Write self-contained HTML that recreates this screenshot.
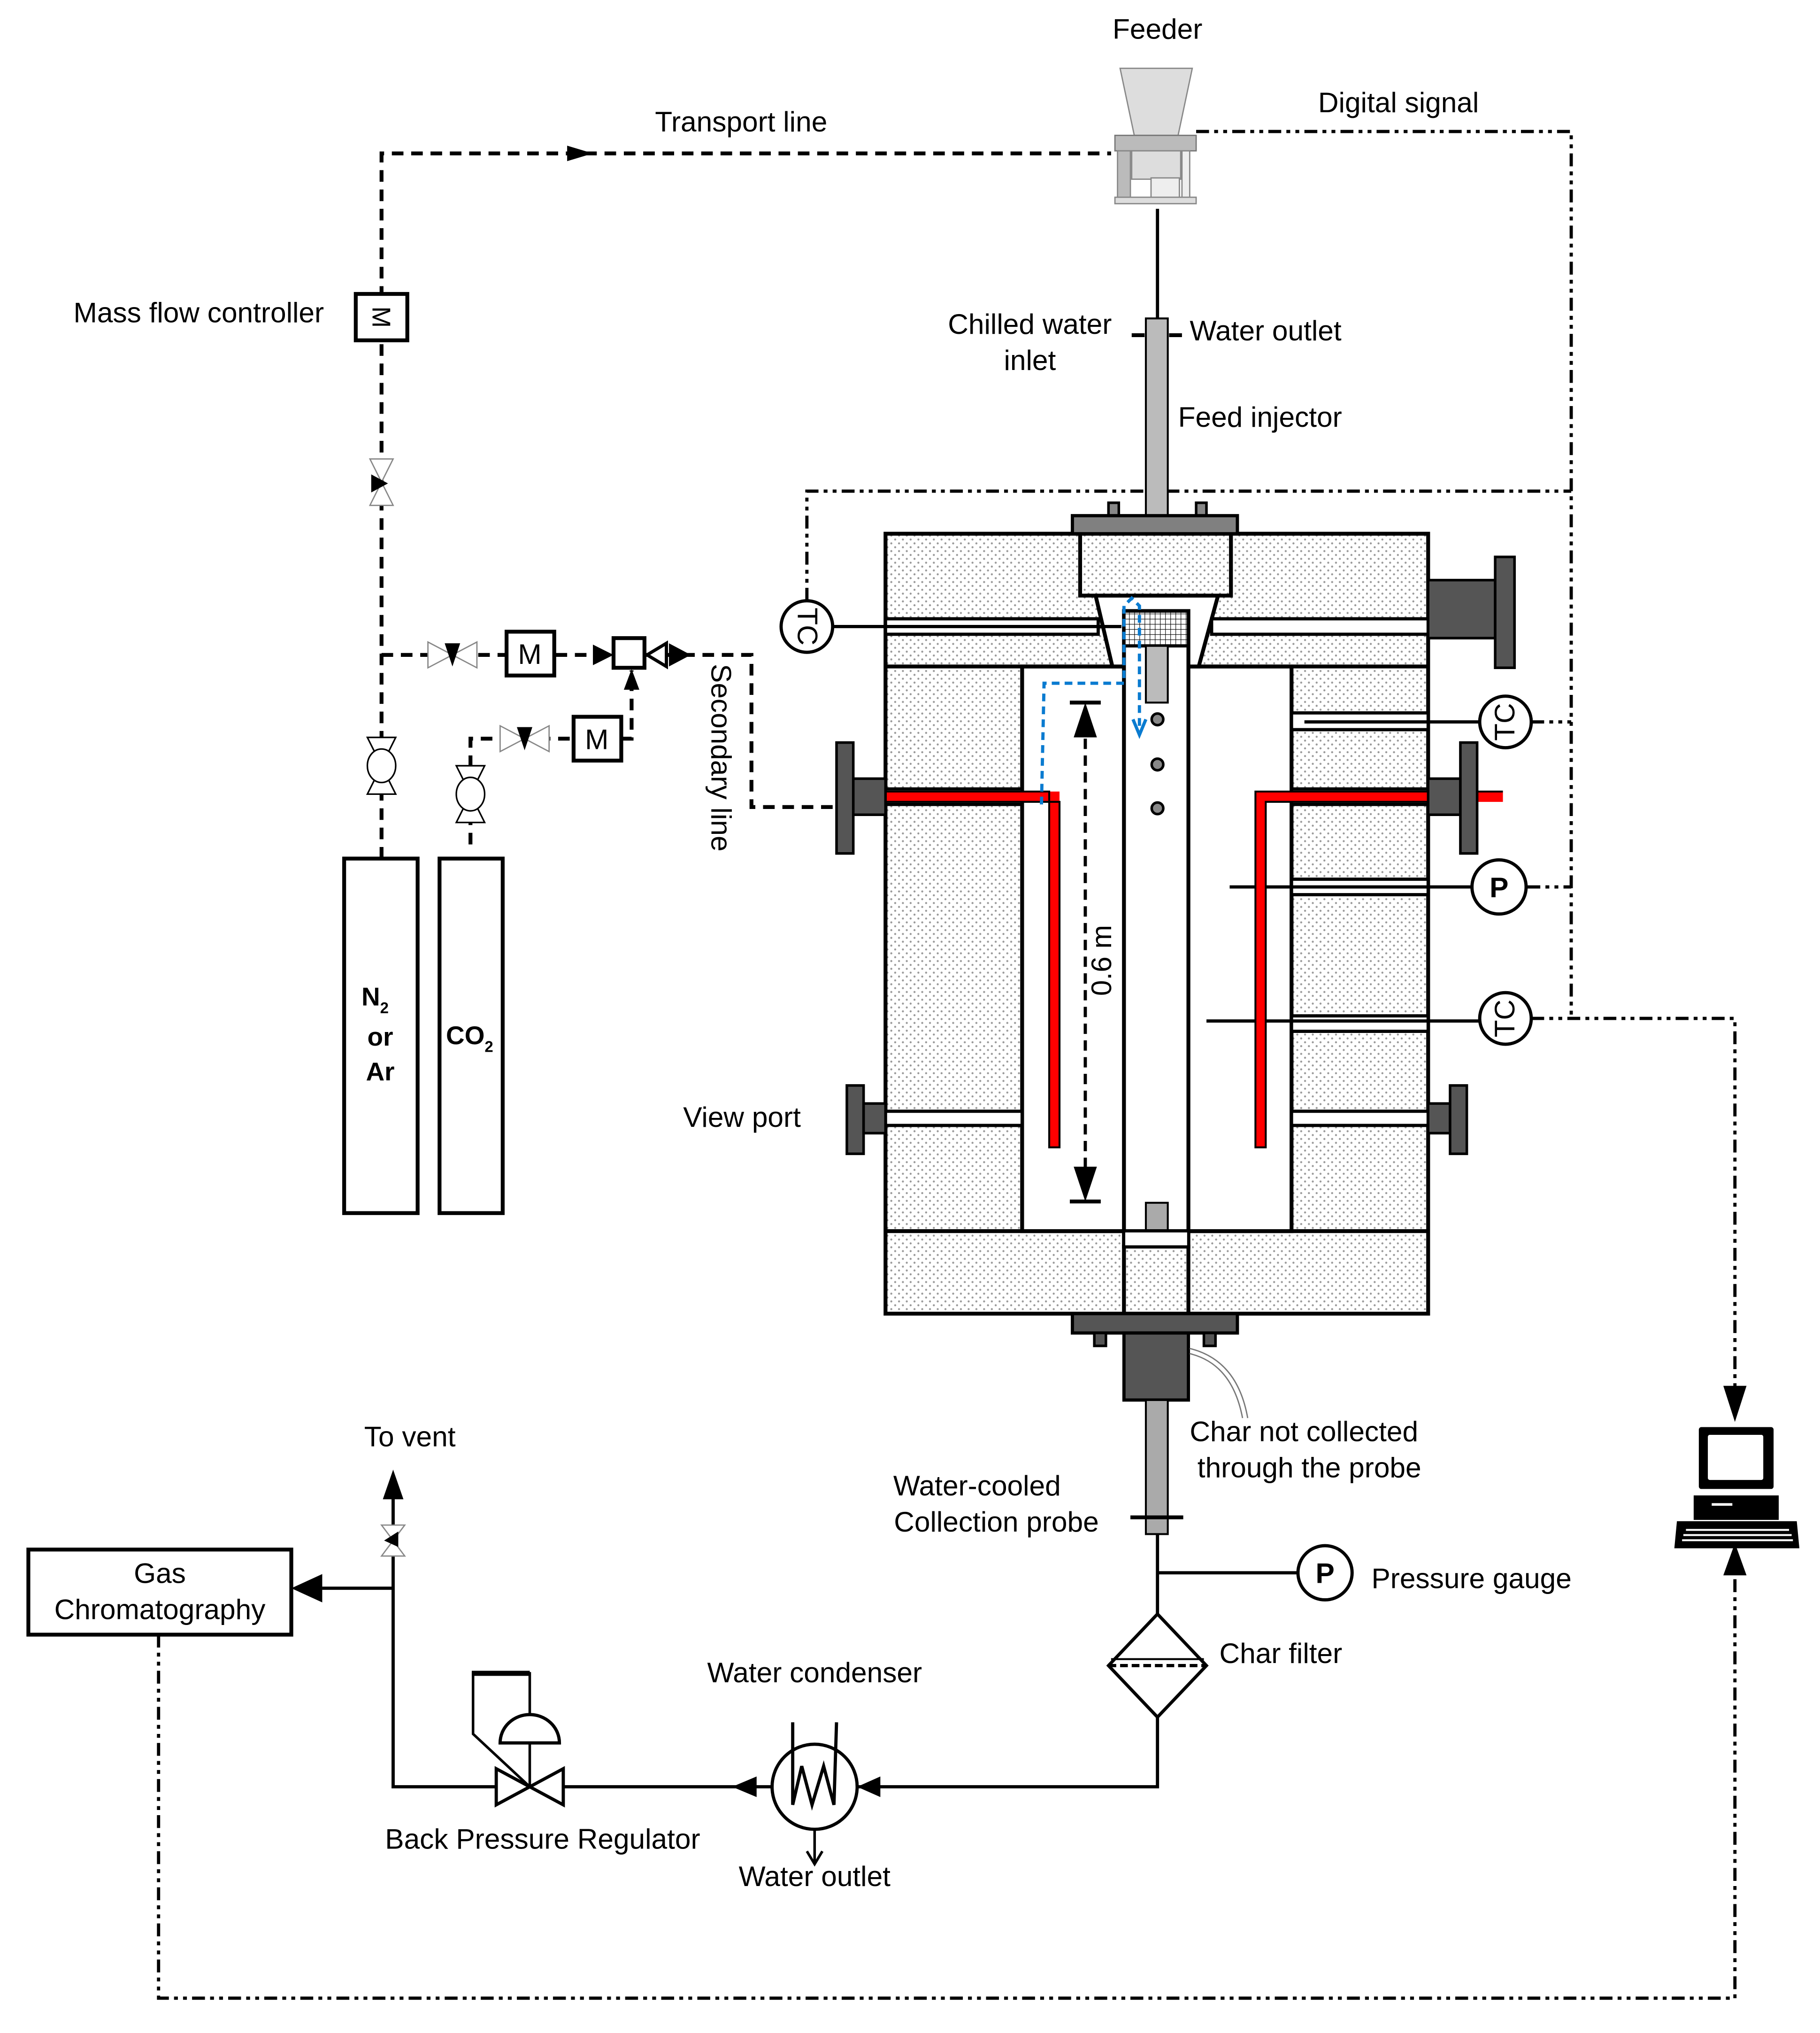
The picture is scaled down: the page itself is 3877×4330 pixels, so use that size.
<!DOCTYPE html>
<html><head><meta charset="utf-8"><style>html,body{margin:0;padding:0;background:#fff}svg{display:block}text{font-family:"Liberation Sans",sans-serif;font-size:22px;fill:#000}</style></head><body>
<svg width="3877" height="4330" viewBox="0 0 1412 1577" xmlns="http://www.w3.org/2000/svg">
<defs>
<pattern id="dots" width="6" height="6" patternUnits="userSpaceOnUse"><rect width="6" height="6" fill="#fff"/><circle cx="1.5" cy="1.5" r="0.8" fill="#999"/><circle cx="4.5" cy="4.5" r="0.8" fill="#999"/></pattern>
<pattern id="grid" width="4" height="4" patternUnits="userSpaceOnUse"><rect width="4" height="4" fill="#fff"/><path d="M0 0H4M0 0V4" stroke="#000" stroke-width="0.8"/></pattern>
</defs>
<rect width="1412" height="1577" fill="#fff"/>

<!-- Feeder -->
<text x="898" y="30" text-anchor="middle">Feeder</text>
<polygon points="869,53 925,53 914,105 880,105" fill="#ddd" stroke="#888"/>
<rect x="865" y="105" width="63" height="12" fill="#bbb" stroke="#777"/>
<rect x="878" y="117" width="38" height="22" fill="#ddd" stroke="#888"/>
<rect x="867" y="117" width="10" height="38" fill="#bbb" stroke="#888"/>
<rect x="917" y="117" width="6" height="38" fill="#eee" stroke="#888"/>
<rect x="893" y="138" width="22" height="18" fill="#eee" stroke="#888"/>
<rect x="865" y="153" width="63" height="5" fill="#ddd" stroke="#888"/>
<line x1="898" y1="162" x2="898" y2="247" stroke="#000" stroke-width="2.5"/>

<!-- transport line -->
<g stroke="#000" stroke-width="3" stroke-dasharray="9,6" fill="none">
<polyline points="296,666 296,119 862,119"/>
<polyline points="296,508 476,508"/>
<polyline points="500,508 583,508 583,626 650,626"/>
<polyline points="365,655 365,573 445,573"/>
<polyline points="482,573 490,573 490,520"/>
</g>
<polygon points="440,113 440,125 460,119" fill="#000"/>
<text x="575" y="102" text-anchor="middle">Transport line</text>
<text x="57" y="250">Mass flow controller</text>
<rect x="276" y="228" width="40" height="36" fill="#fff" stroke="#000" stroke-width="3"/>
<text x="296" y="246" text-anchor="middle" transform="rotate(90 296 246)" dy="7" style="font-size:20px">M</text>
<!-- needle valve vertical -->
<polygon points="287,356 305,356 287,392 305,392" fill="#fff" stroke="#888" stroke-width="1"/>
<polygon points="288,368 288,382 301,375" fill="#000"/>
<!-- ball valves -->
<g fill="#fff" stroke="#000" stroke-width="1.2">
<polygon points="285,572 307,572 296,594 285,616 307,616 296,594"/>
<ellipse cx="296" cy="594" rx="11" ry="13"/>
<polygon points="354,594 376,594 365,616 354,638 376,638 365,616"/>
<ellipse cx="365" cy="616" rx="11" ry="13"/>
</g>
<!-- horizontal needle valves -->
<g fill="#fff" stroke="#888" stroke-width="1">
<polygon points="332,498 332,518 370,498 370,518"/>
<polygon points="388,563 388,583 426,563 426,583"/>
</g>
<polygon points="345,499 357,499 351,517" fill="#000"/>
<polygon points="401,564 413,564 407,582" fill="#000"/>
<rect x="393" y="490" width="37" height="34" fill="#fff" stroke="#000" stroke-width="3"/>
<text x="411" y="515" text-anchor="middle">M</text>
<rect x="445" y="556" width="37" height="34" fill="#fff" stroke="#000" stroke-width="3"/>
<text x="463" y="581" text-anchor="middle">M</text>
<polygon points="460,500 460,516 476,508" fill="#000"/>
<rect x="476" y="495" width="24" height="23" fill="#fff" stroke="#000" stroke-width="3"/>
<polygon points="484,535 496,535 490,519" fill="#000"/>
<polygon points="502,508 517,499 517,517" fill="#fff" stroke="#000" stroke-width="2.5"/>
<polygon points="519,499 519,517 536,508" fill="#000"/>
<text x="552" y="515" transform="rotate(90 552 515)" dy="0">Secondary line</text>

<!-- cylinders -->
<rect x="267" y="666" width="57" height="275" fill="#fff" stroke="#000" stroke-width="3"/>
<rect x="341" y="666" width="49" height="275" fill="#fff" stroke="#000" stroke-width="3"/>
<text x="291" y="780" text-anchor="middle" font-weight="bold" style="font-size:20px">N<tspan style="font-size:12px" dy="6">2</tspan></text>
<text x="295" y="811" text-anchor="middle" font-weight="bold" style="font-size:20px">or</text>
<text x="295" y="838" text-anchor="middle" font-weight="bold" style="font-size:20px">Ar</text>
<text x="346" y="810" font-weight="bold" style="font-size:20px">CO<tspan style="font-size:12px" dy="6">2</tspan></text>

<!-- digital signal -->
<g stroke="#000" stroke-width="2.5" stroke-dasharray="10,4,3,4,3,4" fill="none">
<polyline points="928,102 1219,102 1219,790"/>
<polyline points="626,466 626,381 1219,381"/>
<line x1="1188" y1="560" x2="1219" y2="560"/>
<line x1="1185" y1="688" x2="1219" y2="688"/>
<polyline points="1188,790 1346,790 1346,1078"/>
<polyline points="123,1268 123,1550 1346,1550 1346,1220"/>
</g>
<text x="1085" y="87" text-anchor="middle">Digital signal</text>
<polygon points="1337,1075 1355,1075 1346,1103" fill="#000"/>
<polygon points="1337,1222 1355,1222 1346,1197" fill="#000"/>

<!-- computer -->
<rect x="1318" y="1107" width="58" height="48" rx="2" fill="#000"/>
<rect x="1325" y="1113" width="43" height="35" rx="1.5" fill="#fff"/>
<rect x="1314" y="1160" width="66" height="19" fill="#000"/>
<rect x="1328" y="1166" width="16" height="2" fill="#fff"/>
<polygon points="1301,1180 1394,1180 1396,1201 1299,1201" fill="#000"/>
<g fill="#fff"><rect x="1308" y="1186" width="80" height="1.5"/><rect x="1306" y="1190" width="84" height="1.5"/><rect x="1305" y="1194" width="86" height="1.5"/></g>

<!-- injector -->
<rect x="889" y="247" width="17" height="298" fill="#bbb" stroke="#000" stroke-width="1.5"/>
<line x1="878" y1="260" x2="888" y2="260" stroke="#000" stroke-width="3"/>
<line x1="907" y1="260" x2="917" y2="260" stroke="#000" stroke-width="3"/>
<text x="799" y="259" text-anchor="middle">Chilled water</text>
<text x="799" y="287" text-anchor="middle">inlet</text>
<text x="923" y="264">Water outlet</text>
<text x="914" y="331">Feed injector</text>

<!-- reactor body -->
<rect x="687" y="414" width="421" height="605" fill="url(#dots)" stroke="#000" stroke-width="3"/>
<!-- inner cavity -->
<rect x="793" y="517" width="209" height="438" fill="#fff" stroke="#000" stroke-width="3"/>
<line x1="687" y1="517" x2="1108" y2="517" stroke="#000" stroke-width="3"/>
<!-- top cone -->
<polygon points="850,462 945,462 930,517 863,517" fill="#fff" stroke="#000" stroke-width="3"/>
<rect x="838" y="414" width="117" height="48" fill="url(#dots)" stroke="#000" stroke-width="3"/>
<!-- central tube -->
<rect x="872" y="474" width="50" height="493" fill="#fff" stroke="#000" stroke-width="3"/>
<rect x="872" y="474" width="50" height="27" fill="url(#grid)" stroke="#000" stroke-width="2.5"/>
<rect x="889" y="501" width="17" height="44" fill="#bbb" stroke="#000" stroke-width="1.5"/>
<rect x="889" y="933" width="17" height="34" fill="#aaa" stroke="#000" stroke-width="1.5"/>
<rect x="872" y="967" width="50" height="52" fill="url(#dots)" stroke="#000" stroke-width="3"/>
<line x1="687" y1="955" x2="1108" y2="955" stroke="#000" stroke-width="3"/>
<rect x="872" y="955" width="50" height="12" fill="#fff" stroke="#000" stroke-width="2"/>
<g fill="#888" stroke="#000" stroke-width="2"><circle cx="898" cy="558" r="4.5"/><circle cx="898" cy="593" r="4.5"/><circle cx="898" cy="627" r="4.5"/></g>

<!-- slots -->
<g fill="#fff" stroke="#000" stroke-width="2.5">
<rect x="687" y="480" width="165" height="12"/>
<rect x="940" y="480" width="168" height="12"/>
<rect x="1002" y="553" width="106" height="13"/>
<rect x="1002" y="612" width="106" height="12"/>
<rect x="1002" y="682" width="106" height="12"/>
<rect x="1002" y="788" width="106" height="12"/>
<rect x="1002" y="862" width="106" height="11"/>
<rect x="687" y="612" width="106" height="12"/>
<rect x="687" y="862" width="106" height="11"/>
</g>
<g stroke="#000" stroke-width="2.5">
<line x1="646" y1="486" x2="870" y2="486"/>
<line x1="1012" y1="560" x2="1148" y2="560"/>
<line x1="954" y1="688" x2="1142" y2="688"/>
<line x1="936" y1="792" x2="1148" y2="792"/>
</g>
<!-- red heaters -->
<g fill="none" stroke="#f00" stroke-width="8">
<polyline points="687,618 818,618 818,890"/>
<polyline points="1166,618 978,618 978,890"/>
</g>
<g fill="none" stroke="#000" stroke-width="1.5">
<polyline points="687,614 814,614 814,890 822,890 822,622 687,622" />
<polyline points="1166,614 974,614 974,890 982,890 982,622 1108,622"/>
</g>
<!-- blue path -->
<g fill="none" stroke="#0a7bd0" stroke-width="2.5" stroke-dasharray="6,4">
<polyline points="808,624 810,530 872,530 872,470 878,464 884,470 884,565"/>
</g>
<polyline points="879,558 884,570 889,558" fill="none" stroke="#0a7bd0" stroke-width="2.5"/>
<!-- 0.6 m -->
<line x1="842" y1="560" x2="842" y2="920" stroke="#000" stroke-width="2.5" stroke-dasharray="8,5"/>
<line x1="830" y1="545" x2="854" y2="545" stroke="#000" stroke-width="3"/>
<line x1="830" y1="932" x2="854" y2="932" stroke="#000" stroke-width="3"/>
<polygon points="842,545 833,572 851,572" fill="#000"/>
<polygon points="842,932 833,905 851,905" fill="#000"/>
<text x="862" y="745" text-anchor="middle" transform="rotate(-90 862 745)">0.6 m</text>

<!-- flanges -->
<rect x="860" y="390" width="8" height="12" fill="#888" stroke="#000" stroke-width="2"/>
<rect x="928" y="390" width="8" height="12" fill="#888" stroke="#000" stroke-width="2"/>
<rect x="832" y="400" width="128" height="14" fill="#808080" stroke="#000" stroke-width="2.5"/>
<rect x="1108" y="450" width="52" height="45" fill="#555" stroke="#000" stroke-width="2"/>
<rect x="1160" y="432" width="15" height="86" fill="#555" stroke="#000" stroke-width="2"/>
<rect x="649" y="576" width="13" height="86" fill="#555" stroke="#000" stroke-width="2"/>
<rect x="662" y="604" width="25" height="28" fill="#555" stroke="#000" stroke-width="2"/>
<rect x="1108" y="604" width="25" height="28" fill="#555" stroke="#000" stroke-width="2"/>
<rect x="1133" y="576" width="13" height="86" fill="#555" stroke="#000" stroke-width="2"/>
<rect x="657" y="842" width="13" height="53" fill="#555" stroke="#000" stroke-width="2"/>
<rect x="670" y="856" width="17" height="23" fill="#555" stroke="#000" stroke-width="2"/>
<rect x="1108" y="856" width="17" height="23" fill="#555" stroke="#000" stroke-width="2"/>
<rect x="1125" y="842" width="13" height="53" fill="#555" stroke="#000" stroke-width="2"/>
<rect x="832" y="1019" width="128" height="15" fill="#555" stroke="#000" stroke-width="2.5"/>
<rect x="849" y="1034" width="9" height="10" fill="#555" stroke="#000" stroke-width="2"/>
<rect x="934" y="1034" width="9" height="10" fill="#555" stroke="#000" stroke-width="2"/>
<rect x="872" y="1034" width="50" height="52" fill="#555" stroke="#000" stroke-width="2.5"/>
<rect x="889" y="1086" width="17" height="104" fill="#aaa" stroke="#000" stroke-width="1.5"/>
<line x1="877" y1="1177" x2="918" y2="1177" stroke="#000" stroke-width="3"/>
<path d="M923,1046 Q960,1055 968,1100" fill="none" stroke="#777" stroke-width="1"/>
<path d="M923,1050 Q956,1058 964,1100" fill="none" stroke="#777" stroke-width="1"/>
<text x="923" y="1118">Char not collected</text>
<text x="929" y="1146">through the probe</text>
<text x="758" y="1160" text-anchor="middle">Water-cooled</text>
<text x="773" y="1188" text-anchor="middle">Collection probe</text>

<!-- TC / P -->
<g fill="#fff" stroke="#000" stroke-width="2.5">
<circle cx="626" cy="486" r="20"/><circle cx="1168" cy="560" r="20"/><circle cx="1163" cy="688" r="21"/><circle cx="1168" cy="790" r="20"/><circle cx="1028" cy="1220" r="21"/>
</g>
<text x="626" y="486" text-anchor="middle" dy="7" transform="rotate(90 626 486)">TC</text>
<text x="1168" y="560" text-anchor="middle" dy="7" transform="rotate(-90 1168 560)">TC</text>
<text x="1168" y="790" text-anchor="middle" dy="7" transform="rotate(-90 1168 790)">TC</text>
<text x="1163" y="696" text-anchor="middle" font-weight="bold">P</text>
<text x="1028" y="1228" text-anchor="middle" font-weight="bold">P</text>
<text x="530" y="874">View port</text>

<!-- lower process -->
<g stroke="#000" stroke-width="2.5" fill="none">
<line x1="898" y1="1190" x2="898" y2="1252"/>
<line x1="898" y1="1220" x2="1007" y2="1220"/>
<polyline points="898,1332 898,1386 665,1386"/>
<line x1="599" y1="1386" x2="437" y2="1386"/>
<polyline points="384,1386 305,1386 305,1160"/>
<line x1="305" y1="1232" x2="250" y2="1232"/>
</g>
<polygon points="898,1252 936,1292 898,1332 860,1292" fill="#fff" stroke="#000" stroke-width="2.5"/>
<line x1="860" y1="1292" x2="936" y2="1292" stroke="#000" stroke-width="2.5" stroke-dasharray="6,3"/>
<line x1="862" y1="1287" x2="934" y2="1287" stroke="#000" stroke-width="1.5"/>
<text x="946" y="1290">Char filter</text>
<text x="1064" y="1232">Pressure gauge</text>
<polygon points="665,1386 683,1378 683,1394" fill="#000"/>
<polygon points="568,1386 587,1378 587,1394" fill="#000"/>
<circle cx="632" cy="1386" r="33" fill="#fff" stroke="#000" stroke-width="2.5"/>
<polyline points="615,1336 615,1400 622,1370 630,1400 639,1370 647,1400 649,1336" fill="none" stroke="#000" stroke-width="2.5"/>
<line x1="632" y1="1419" x2="632" y2="1445" stroke="#000" stroke-width="2"/>
<polyline points="626,1436 632,1446 638,1436" fill="none" stroke="#000" stroke-width="2"/>
<text x="632" y="1305" text-anchor="middle">Water condenser</text>
<text x="632" y="1463" text-anchor="middle">Water outlet</text>
<!-- BPR -->
<polygon points="385,1372 385,1400 437,1372 437,1400" fill="#fff" stroke="#000" stroke-width="2.5"/>
<line x1="411" y1="1386" x2="411" y2="1352" stroke="#000" stroke-width="2"/>
<path d="M388,1352 A23,22 0 0 1 434,1352 Z" fill="#fff" stroke="#000" stroke-width="2.5"/>
<polyline points="411,1330 411,1298 367,1298 367,1345 411,1386" fill="none" stroke="#000" stroke-width="2"/>
<line x1="366" y1="1298" x2="411" y2="1298" stroke="#000" stroke-width="4"/>
<text x="421" y="1434" text-anchor="middle">Back Pressure Regulator</text>
<!-- vent -->
<polygon points="296,1183 314,1183 296,1207 314,1207" fill="#fff" stroke="#888" stroke-width="1"/>
<polygon points="309,1188 309,1200 298,1195" fill="#000"/>
<polygon points="305,1140 297,1163 313,1163" fill="#000"/>
<text x="318" y="1122" text-anchor="middle">To vent</text>
<polygon points="226,1232 250,1221 250,1243" fill="#000"/>
<rect x="22" y="1202" width="204" height="66" fill="#fff" stroke="#000" stroke-width="3"/>
<text x="124" y="1228" text-anchor="middle">Gas</text>
<text x="124" y="1256" text-anchor="middle">Chromatography</text>
</svg>
</body></html>
